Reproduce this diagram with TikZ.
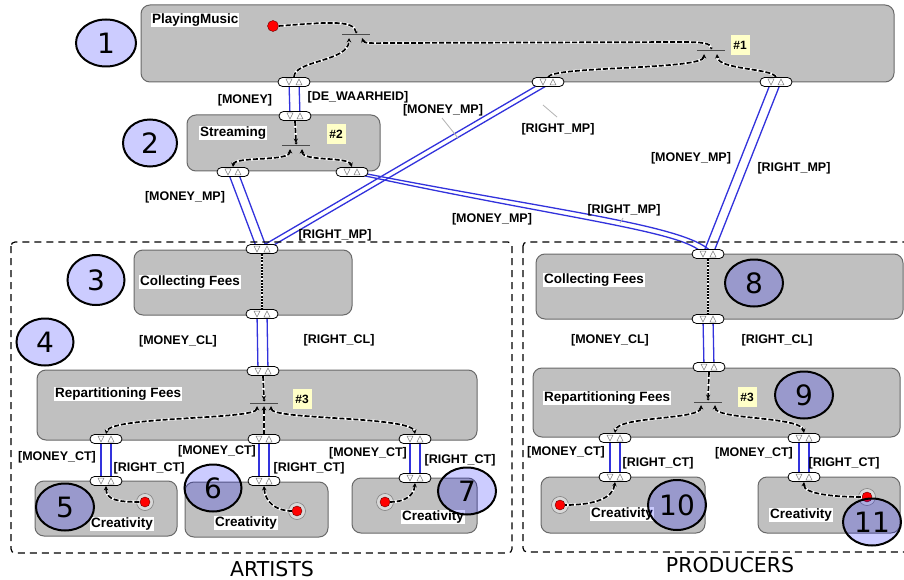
\documentclass[tikz,border=0pt]{standalone}
\usepackage{fontspec}
\setmainfont{Liberation Sans}
\newfontfamily\numfont{DejaVu Sans}
\usetikzlibrary{arrows.meta,shapes.misc,shapes.geometric,fit}
\definecolor{boxgray}{RGB}{192,192,192}
\definecolor{boxline}{RGB}{105,105,105}
\definecolor{linkblue}{RGB}{50,50,220}
\definecolor{tagyellow}{RGB}{255,255,200}
\pgfdeclarelayer{front}
\pgfsetlayers{main,front}
\tikzset{
  box/.style={draw=boxline, fill=boxgray, line width=1pt, rounded corners=9pt, inner sep=0pt},
  lbl/.style={fill=white, inner sep=1pt, font=\bfseries\fontsize{13.5}{14}\selectfont},
  lnk/.style={inner sep=0pt, font=\bfseries\fontsize{12.5}{13}\selectfont},
  port/.style={rounded rectangle, draw=black, fill=white, line width=0.8pt, minimum width=32pt, minimum height=9pt, inner sep=0pt},
  tri/.style={draw=gray, fill=white, line width=0.5pt},
  link/.style={draw=linkblue, line width=1.3pt},
  flow/.style={line width=1.7pt, dash pattern=on 5pt off 2pt, preaction={draw=white, solid, line width=2.6pt}},
  dotflow/.style={line width=1.1pt, dash pattern=on 2pt off 1.2pt, preaction={draw=white, solid, line width=2pt}},
  bar/.style={draw=black!70, line width=1pt},
  tag/.style={fill=tagyellow, minimum width=19pt, minimum height=20pt, inner sep=0pt, font=\bfseries\fontsize{12}{12}\selectfont},
  rdot/.style={circle, fill=red, draw=red!40!black, line width=0.4pt, minimum size=11pt, inner sep=0pt},
  ring/.style={circle, fill=gray!30, draw=gray, line width=0.6pt, minimum size=17pt, inner sep=0pt},
  num/.style={ellipse, draw=black, line width=2pt, fill=blue, fill opacity=0.2, draw opacity=1, text opacity=1,
    minimum width=57pt, minimum height=47pt, inner sep=0pt, font=\numfont\fontsize{28}{28}\selectfont},
  group/.style={draw=black, line width=1.2pt, dash pattern=on 7pt off 5pt, rounded corners=4pt},
  leader/.style={draw=gray!60, line width=0.8pt},
  >={Stealth[length=4.5pt,width=4.5pt]}
}
% port with its two flow marks, kept above the lines
\newcommand{\mkport}[2]{%
  \begin{pgfonlayer}{front}
  \node[port] (#1) at (#2) {};
  \draw[tri] ([shift={(-8,-3)}]#1.center) -- ++(6,0) -- ++(-3,6) -- cycle;
  \draw[tri] ([shift={(2,3)}]#1.center) -- ++(6,0) -- ++(-3,-6) -- cycle;
  \end{pgfonlayer}
}
% money and right lines between two ports
\newcommand{\mklink}[2]{%
  \draw[link] ([xshift=-5pt]#1.center) -- ([xshift=-5pt]#2.center);
  \draw[link] ([xshift=5pt]#1.center) -- ([xshift=5pt]#2.center);
}
\begin{document}
\begin{tikzpicture}[x=1pt, y=-1pt]
  \useasboundingbox[fill=white] (0,0) rectangle (904,580);
  %
  % boxes
  \node[box, fit={(141,5) (894,82)}] (pm) {};
  \node[box, fit={(187,115) (380,171)}] (st) {};
  \node[box, fit={(134,250) (352,315)}] (acf) {};
  \node[box, fit={(37,370) (477,440)}] (arf) {};
  \node[box, fit={(35,481) (177,536)}] (acr1) {};
  \node[box, fit={(185,482) (328,537)}] (acr2) {};
  \node[box, fit={(352,478) (477,533)}] (acr3) {};
  \node[box, fit={(536,254) (903,319)}] (pcf) {};
  \node[box, fit={(533,368) (900,437)}] (prf) {};
  \node[box, fit={(541,477) (705,533)}] (pcr1) {};
  \node[box, fit={(758,477) (900,533)}] (pcr2) {};
  %
  % box labels and tags
  \node[lbl, anchor=west] (pm-t) at (151,20) {PlayingMusic};
  \node[lbl, anchor=west] (st-t) at (199,133) {Streaming};
  \node[lbl, anchor=west] (acf-t) at (139,282) {Collecting Fees};
  \node[lbl, anchor=west] (arf-t) at (54,394) {Repartitioning Fees};
  \node[lbl] (acr1-t) at (122,524) {Creativity};
  \node[lbl] (acr2-t) at (246,523) {Creativity};
  \node[lbl] (acr3-t) at (433,517) {Creativity};
  \node[lbl, anchor=west] (pcf-t) at (543,280) {Collecting Fees};
  \node[lbl, anchor=west] (prf-t) at (543,398) {Repartitioning Fees};
  \node[lbl] (pcr1-t) at (622,514) {Creativity};
  \node[lbl] (pcr2-t) at (801,515) {Creativity};
  \node[tag] (tag1) at (740,45) {\#1};
  \node[tag] (tag2) at (336,134) {\#2};
  \node[tag] (tag3) at (302,399) {\#3};
  \node[tag] (tag4) at (747,397) {\#3};
  %
  % junction bars
  \coordinate (j1) at (356,35);
  \coordinate (j2) at (711,51);
  \coordinate (j3) at (296,146);
  \coordinate (j4) at (264,403);
  \coordinate (j5) at (708,402);
  \foreach \j in {j1,j2,j3,j4,j5} {
    \draw[bar] ([xshift=-14pt]\j) -- ([xshift=14pt]\j);
    \fill ([shift={(0,-3)}]\j) circle (1.5);
  }
  %
  % red start dots
  \node[rdot] (d1) at (273,26) {};
  \node[ring] at (145,502) {};
  \node[rdot, minimum size=10pt] (ca) at (145,502) {};
  \node[ring] at (297,511) {};
  \node[rdot, minimum size=10pt] (cb) at (297,511) {};
  \node[ring] at (385,502) {};
  \node[rdot, minimum size=10pt] (cc) at (385,502) {};
  \node[ring] at (560,505) {};
  \node[rdot, minimum size=10pt] (pa) at (560,505) {};
  \node[ring] at (867,497) {};
  \node[rdot, minimum size=10pt] (pb) at (867,497) {};
  %
  % ports
  \mkport{pm-a}{294,82}
  \mkport{pm-b}{548,82}
  \mkport{pm-c}{776,82}
  \mkport{st-in}{295,116}
  \mkport{st-a}{233,172}
  \mkport{st-b}{352,172}
  \mkport{acf-in}{262,249}
  \mkport{acf-out}{262,314}
  \mkport{arf-in}{263,371}
  \mkport{arf-a}{106,439}
  \mkport{arf-b}{264,439}
  \mkport{arf-c}{415,439}
  \mkport{acr-a}{106,481}
  \mkport{acr-b}{264,481}
  \mkport{acr-c}{415,478}
  \mkport{pcf-in}{708,254}
  \mkport{pcf-out}{708,319}
  \mkport{prf-in}{709,367}
  \mkport{prf-a}{615,438}
  \mkport{prf-b}{804,438}
  \mkport{pcr-a}{615,477}
  \mkport{pcr-b}{804,477}
  %
  % control flow
  \draw[flow] (d1.east) .. controls (330,22) and (354,20) .. ([shift={(0,-3)}]j1);
  \draw[flow,->] (pm-a.north) .. controls (294,60) and (349,62) .. ([shift={(-7,3)}]j1);
  \draw[flow,<-] ([shift={(6,3)}]j1) .. controls (364,44) and (372,43) .. (395,43) -- (680,42)
    .. controls (702,42) and (711,43) .. ([shift={(0,-3)}]j2);
  \draw[flow,->] (pm-b.north) .. controls (552,66) and (704,70) .. ([shift={(-7,3)}]j2);
  \draw[flow,->] (pm-c.north) .. controls (772,68) and (718,70) .. ([shift={(6,3)}]j2);
  \draw[flow,->] (st-in.south) -- ([shift={(0,-3)}]j3);
  \draw[flow,<->] (st-a.north) .. controls (234,156) and (290,162) .. ([shift={(-6,3)}]j3);
  \draw[flow,<->] ([shift={(6,3)}]j3) .. controls (302,162) and (348,156) .. (st-b.north);
  \draw[dotflow] (acf-in.south) -- (acf-out.north);
  \fill (acf-in.south) circle (1.5) (acf-out.north) circle (1.5);
  \draw[flow,->] (arf-in.south) -- ([shift={(0,-3)}]j4);
  \draw[flow,<->] ([shift={(-7,3)}]j4) .. controls (257,420) and (110,416) .. (arf-a.north);
  \draw[flow,<-] ([shift={(0,3)}]j4) -- (arf-b.north);
  \draw[flow,<->] ([shift={(7,3)}]j4) .. controls (271,420) and (412,416) .. (arf-c.north);
  \draw[flow,<-] (acr-a.south) .. controls (106,500) and (118,502) .. (ca.west);
  \draw[flow,<-] (acr-b.south) .. controls (265,502) and (276,511) .. (cb.west);
  \draw[flow,<-] (acr-c.south) .. controls (414,496) and (404,502) .. (cc.east);
  \draw[dotflow] (pcf-in.south) -- (pcf-out.north);
  \fill (pcf-in.south) circle (1.5) (pcf-out.north) circle (1.5);
  \draw[flow,->] (prf-in.south) -- ([shift={(0,-3)}]j5);
  \draw[flow,<->] ([shift={(-7,3)}]j5) .. controls (701,420) and (617,416) .. (prf-a.north);
  \draw[flow,<->] ([shift={(7,3)}]j5) .. controls (715,420) and (801,416) .. (prf-b.north);
  \draw[flow,<-] (pcr-a.south) .. controls (613,498) and (595,505) .. (pa.east);
  \draw[flow,<-] (pcr-b.south) .. controls (803,494) and (835,497) .. (pb.west);
  %
  % links
  \draw[link] ([xshift=-5pt]st-b.center) .. controls (557,218) and (687,231) .. ([xshift=-5pt]pcf-in.center);
  \draw[link] ([xshift=5pt]st-b.center) .. controls (562,212) and (694,226) .. ([xshift=5pt]pcf-in.center);
  \mklink{pm-a}{st-in}
  \mklink{pm-b}{acf-in}
  \mklink{pm-c}{pcf-in}
  \mklink{st-a}{acf-in}
  \mklink{acf-out}{arf-in}
  \mklink{arf-a}{acr-a}
  \mklink{arf-b}{acr-b}
  \mklink{arf-c}{acr-c}
  \mklink{pcf-out}{prf-in}
  \mklink{prf-a}{pcr-a}
  \mklink{prf-b}{pcr-b}
  %
  % link labels
  \node[lnk] (l1) at (245,100) {[MONEY]};
  \node[lnk] (l2) at (358,97) {[DE\_WAARHEID]};
  \node[lnk] (l3) at (443,110) {[MONEY\_MP]};
  \node[lnk] (l4) at (558,129) {[RIGHT\_MP]};
  \node[lnk] (l5) at (185,197) {[MONEY\_MP]};
  \node[lnk] (l6) at (335,235) {[RIGHT\_MP]};
  \node[lnk] (l7) at (492,219) {[MONEY\_MP]};
  \node[lnk] (l8) at (624,210) {[RIGHT\_MP]};
  \node[lnk] (l9) at (691,158) {[MONEY\_MP]};
  \node[lnk] (l10) at (794,168) {[RIGHT\_MP]};
  \node[lnk] (l11) at (178,341) {[MONEY\_CL]};
  \node[lnk] (l12) at (339,340) {[RIGHT\_CL]};
  \node[lnk] (l13) at (610,340) {[MONEY\_CL]};
  \node[lnk] (l14) at (777,340) {[RIGHT\_CL]};
  \node[lnk] (l15) at (57,457) {[MONEY\_CT]};
  \node[lnk] (l16) at (149,468) {[RIGHT\_CT]};
  \node[lnk] (l17) at (217,451) {[MONEY\_CT]};
  \node[lnk] (l18) at (309,468) {[RIGHT\_CT]};
  \node[lnk] (l19) at (368,453) {[MONEY\_CT]};
  \node[lnk] (l20) at (460,460) {[RIGHT\_CT]};
  \node[lnk] (l21) at (566,452) {[MONEY\_CT]};
  \node[lnk] (l22) at (658,463) {[RIGHT\_CT]};
  \node[lnk] (l23) at (754,453) {[MONEY\_CT]};
  \node[lnk] (l24) at (844,463) {[RIGHT\_CT]};
  \draw[leader] (442,118) -- (458,138);
  \draw[leader] (543,105) -- (557,117);
  \draw[leader] (623,218) -- (620,223);
  %
  % groups
  \draw[group] (11,242) rectangle (512,553);
  \draw[group] (523,242) rectangle (915,552);
  \node[anchor=base, inner sep=0pt, font=\numfont\fontsize{20.5}{21}\selectfont] (artists) at (272,576) {ARTISTS};
  \node[anchor=base, inner sep=0pt, font=\numfont\fontsize{20.5}{21}\selectfont] (producers) at (730,572) {PRODUCERS};
  %
  % numbered marks
  \begin{pgfonlayer}{front}
  \node[num, minimum width=60pt] (n1) at (106,43) {1};
  \node[num, minimum width=54pt] (n2) at (150,143) {2};
  \node[num, minimum height=50pt] (n3) at (96,280) {3};
  \node[num] (n4) at (45,342) {4};
  \node[num, minimum width=58pt] (n5) at (65,507) {5};
  \node[num] (n6) at (213,488) {6};
  \node[num, minimum width=58pt] (n7) at (467,491) {7};
  \node[num, minimum width=58pt] (n8) at (754,283) {8};
  \node[num, minimum width=58pt] (n9) at (804,395) {9};
  \node[num, minimum width=58pt, minimum height=50pt] (n10) at (677,505) {10};
  \node[num, minimum width=58pt] (n11) at (872,522) {11};
  \end{pgfonlayer}
\end{tikzpicture}
\end{document}
